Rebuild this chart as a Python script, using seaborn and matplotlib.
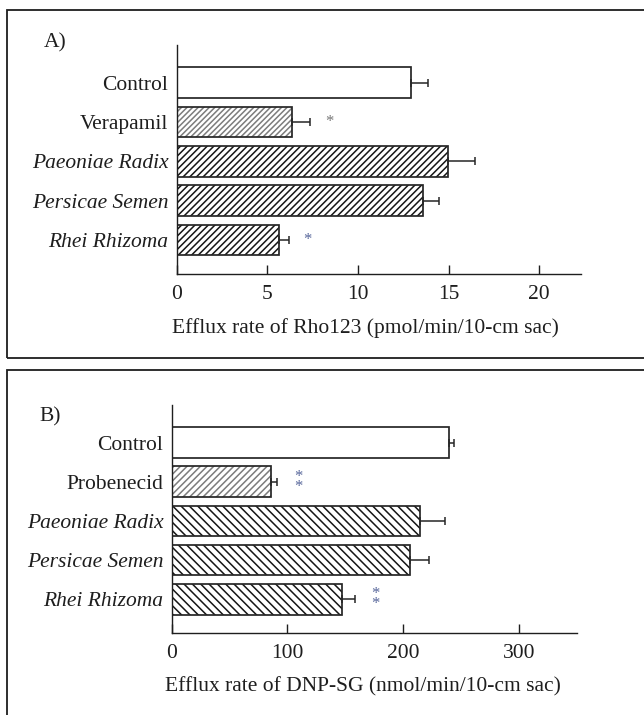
import matplotlib
matplotlib.use("Agg")
import matplotlib.pyplot as plt
from matplotlib.patches import Rectangle
import seaborn as sns

# panel A: Rho123 efflux
cats_a = ["Control", "Verapamil", "Paeoniae Radix", "Persicae Semen", "Rhei Rhizoma"]
rho_mean = [12.95, 6.35, 14.97, 13.56, 5.67]
rho_sem = [0.90, 1.01, 1.47, 0.91, 0.50]
rho_sig = ["", "*", "", "", "*"]
rho_ticks = [0, 5, 10, 15, 20]

# panel B: DNP-SG efflux
cats_b = ["Control", "Probenecid", "Paeoniae Radix", "Persicae Semen", "Rhei Rhizoma"]
dnp_mean = [239.8, 85.7, 214.0, 206.2, 146.7]
dnp_sem = [3.6, 5.4, 21.6, 16.3, 11.5]
dnp_sig = ["", "**", "", "", "**"]
dnp_ticks = [0, 100, 200, 300]

sns.set_style("ticks")
plt.rcParams["font.family"] = ["Liberation Serif", "DejaVu Serif"]
plt.rcParams["hatch.linewidth"] = 1.1

FS = 15.5
EDGE = "#262626"
TXT = "#1e1e1e"
STAR_BLUE = "#56659a"


def draw_panel(ax, cats, means, sems, sig, ticks, xmax, hatch_light, hatch_herb,
               star_off, star_colors, xlabel, label_x):
    sns.barplot(x=means, y=cats, orient="h", ax=ax, width=0.78,
                color="white", errorbar=None, saturation=1)
    styles = [
        (None, EDGE),
        (hatch_light, "#7c7c7c"),
        (hatch_herb, "#151515"),
        (hatch_herb, "#151515"),
        (hatch_herb, "#151515"),
    ]
    for p, (h, hc) in zip(ax.patches, styles):
        p.set_facecolor("white")
        p.set_hatch(h)
        p.set_edgecolor(hc)
        p.set_linewidth(0)
        ax.add_patch(Rectangle(p.get_xy(), p.get_width(), p.get_height(),
                               fill=False, edgecolor=EDGE, lw=1.25,
                               zorder=p.get_zorder() + 0.1))
    pos = list(range(len(cats)))
    ax.errorbar(means, pos, xerr=[[0] * len(sems), sems], fmt="none",
                ecolor=EDGE, elinewidth=1.1, capsize=3, capthick=1.1, zorder=5)
    for i, s in enumerate(sig):
        if s:
            ax.text(means[i] + sems[i] + star_off, i, "\n".join(s),
                    ha="center", va="center", fontsize=12,
                    linespacing=0.5, color=star_colors[i])

    ax.set_xlim(0, xmax)
    ax.set_ylim(4.87, -0.96)
    ax.set_xticks(ticks)
    ax.set_xticklabels([str(t) for t in ticks], fontsize=FS)
    ax.tick_params(axis="x", direction="in", length=6.5, width=1.0,
                   pad=8, colors=TXT)
    ax.tick_params(axis="y", length=0, pad=6, labelsize=FS, colors=TXT)
    for i, lab in enumerate(ax.get_yticklabels()):
        if i >= 2:
            lab.set_fontstyle("italic")
    sns.despine(ax=ax)
    for side in ["left", "bottom"]:
        ax.spines[side].set_linewidth(1.0)
        ax.spines[side].set_color(TXT)
    ax.set_ylabel("")
    ax.set_xlabel(xlabel, fontsize=FS, color=TXT)
    ax.xaxis.set_label_coords(label_x, -0.19)


W, H = 644, 715
fig = plt.figure(figsize=(W / 100, H / 100), dpi=100)

ax_a = fig.add_axes([176.7 / W, 1 - 274.3 / H, 404.3 / W, 229.3 / H])
draw_panel(ax_a, cats_a, rho_mean, rho_sem, rho_sig, rho_ticks, 22.3,
           "//////", "/////",
           1.05, ["", "#767676", "", "", STAR_BLUE],
           "Efflux rate of Rho123 (pmol/min/10-cm sac)", 0.467)

ax_b = fig.add_axes([171.7 / W, 1 - 633.3 / H, 405.3 / W, 228.3 / H])
draw_panel(ax_b, cats_b, dnp_mean, dnp_sem, dnp_sig, dnp_ticks, 350,
           "/////", "\\\\\\\\",
           18.0, ["", STAR_BLUE, "", "", STAR_BLUE],
           "Efflux rate of DNP-SG (nmol/min/10-cm sac)", 0.473)

# panel frames (open on the right, as in the source figure)
fig.add_artist(Rectangle((7.4 / W, 1 - 358 / H), 1.0, 348 / H,
                         transform=fig.transFigure, fill=False,
                         lw=1.3, edgecolor=TXT))
fig.add_artist(Rectangle((7.4 / W, -0.1), 1.0, 0.1 + (H - 370) / H,
                         transform=fig.transFigure, fill=False,
                         lw=1.3, edgecolor=TXT))

fig.text(44 / W, 1 - 43 / H, "A)", fontsize=FS, va="center", ha="left", color=TXT)
fig.text(39 / W, 1 - 416.7 / H, "B)", fontsize=FS, va="center", ha="left", color=TXT)

fig.savefig("out.png", dpi=100)
plt.close(fig)
